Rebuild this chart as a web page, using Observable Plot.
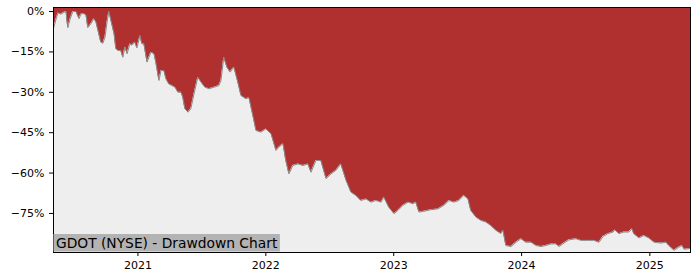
<!DOCTYPE html>
<html>
<head>
<meta charset="utf-8">
<script src="https://cdn.jsdelivr.net/npm/d3@7"></script>
<script src="https://cdn.jsdelivr.net/npm/@observablehq/plot@0.6"></script>
<style>
  html, body { margin: 0; padding: 0; background: #fff; }
  #chart { width: 700px; height: 280px; }
</style>
</head>
<body>
<div id="chart"></div>
<script>
const title = "GDOT (NYSE) - Drawdown Chart";
const dates = [
  "2020-05-05","2020-05-12","2020-05-18","2020-05-26","2020-06-04","2020-06-10","2020-06-12","2020-06-15",
  "2020-06-21","2020-06-29","2020-07-08","2020-07-17","2020-07-22","2020-07-31","2020-08-06","2020-08-11",
  "2020-08-20","2020-08-28","2020-09-03","2020-09-09","2020-09-17","2020-09-23","2020-09-29","2020-10-05",
  "2020-10-10","2020-10-16","2020-10-25","2020-10-30","2020-11-05","2020-11-13","2020-11-19","2020-11-25",
  "2020-12-01","2020-12-09","2020-12-15","2020-12-23","2020-12-29","2021-01-07","2021-01-12","2021-01-18",
  "2021-01-27","2021-02-07","2021-02-16","2021-02-21","2021-03-02","2021-03-08","2021-03-16","2021-03-22",
  "2021-03-30","2021-04-08","2021-04-17","2021-04-25","2021-05-04","2021-05-09","2021-05-15","2021-05-24",
  "2021-06-01","2021-06-10","2021-06-21","2021-06-30","2021-07-11","2021-07-23","2021-08-06","2021-08-20",
  "2021-08-26","2021-09-03","2021-09-12","2021-09-21","2021-10-02","2021-10-13","2021-10-22","2021-11-05",
  "2021-11-14","2021-11-25","2021-12-04","2021-12-18","2022-01-01","2022-01-16","2022-01-30","2022-02-07",
  "2022-02-19","2022-02-27","2022-03-08","2022-03-19","2022-04-03","2022-04-17","2022-05-01","2022-05-10",
  "2022-05-24","2022-06-07","2022-06-22","2022-07-06","2022-07-20","2022-08-03","2022-08-18","2022-09-01",
  "2022-09-15","2022-09-29","2022-10-14","2022-10-28","2022-11-11","2022-11-26","2022-12-04","2022-12-18",
  "2023-01-02","2023-01-13","2023-01-27","2023-02-11","2023-02-25","2023-03-05","2023-03-14","2023-03-28",
  "2023-04-17","2023-05-07","2023-05-24","2023-06-08","2023-06-22","2023-07-06","2023-07-20","2023-08-01",
  "2023-08-09","2023-08-24","2023-09-07","2023-09-21","2023-10-05","2023-10-20","2023-11-03","2023-11-09",
  "2023-11-17","2023-12-02","2023-12-16","2023-12-30","2024-01-13","2024-01-28","2024-02-11","2024-02-25",
  "2024-03-10","2024-03-25","2024-04-08","2024-04-17","2024-05-01","2024-05-15","2024-06-04","2024-06-18",
  "2024-07-08","2024-07-25","2024-08-09","2024-08-20","2024-09-03","2024-09-18","2024-09-23","2024-10-05",
  "2024-10-19","2024-11-02","2024-11-11","2024-11-16","2024-12-01","2024-12-15","2024-12-29","2025-01-13",
  "2025-02-02","2025-02-16","2025-02-24","2025-03-11","2025-03-25","2025-04-03","2025-04-09","2025-04-20",
  "2025-04-27"
];
const drawdown = [
  -6.3,-3,-0.5,-1,-0.3,0,-3,-6,
  -3,0,0,-2.7,-1,-0.7,-1.5,-6,
  -4.5,-2.7,-3.8,-7,-11.4,-11.8,-9.5,-3.8,
  0,-3.3,-8.3,-13.8,-14.5,-14.5,-17,-13.2,
  -15.7,-12,-12.5,-11.4,-13.5,-8.9,-12,-12,
  -18.8,-15.1,-15.7,-18.8,-25.6,-21.9,-21.9,-25,
  -26.9,-27.5,-28.1,-30,-30,-31.8,-36.1,-37.4,
  -36.1,-30.6,-24.4,-26.2,-28.1,-28.7,-28.1,-27.5,
  -25.6,-17,-20.7,-22.5,-20.7,-26.2,-31.2,-32.4,
  -32,-38.6,-44.2,-44.8,-43.6,-45.4,-51.6,-50.4,
  -49.1,-55.3,-60.3,-57.2,-56.6,-57.2,-56.6,-59.7,
  -55.3,-55.3,-62.1,-60.3,-59,-56.6,-62.7,-67.1,
  -68.3,-70.2,-69.6,-70.8,-70.2,-70.8,-69,-72.7,
  -75.1,-73.9,-72,-70.8,-71.4,-70.8,-74.5,-74.2,
  -73.6,-73.3,-72,-70.2,-70.8,-70.2,-68.3,-69.6,
  -73.9,-76.4,-77.6,-78.2,-79.5,-81.3,-82.5,-81.3,
  -86.9,-87.3,-85.7,-84.4,-85.7,-85.7,-86.9,-87.3,
  -86.9,-86.3,-86.3,-87.3,-86,-84.8,-84.4,-85,
  -85,-85,-85.7,-83.6,-82.5,-81.9,-81.1,-82.5,
  -81.9,-81.9,-80.7,-82.5,-84.1,-83.2,-84.1,-85.7,
  -86,-85.7,-86.9,-88.7,-87.5,-86.9,-88.3,-88.1,
  -88
];
const yTicks = [0, -15, -30, -45, -60, -75];
const xTicks = ["2021-01-01","2022-01-01","2023-01-01","2024-01-01","2025-01-01"];
const xDomain = ["2020-05-05", "2025-04-27"];
const yDomain = [-89.5, 1.5];

const data = dates.map((d, i) => ({date: new Date(d), dd: drawdown[i]}));
const fmtY = d => (d < 0 ? "\u2212" : "") + Math.abs(d) + "%";
const fmtX = d => String(d.getUTCFullYear());

const chart = Plot.plot({
  width: 700,
  height: 280,
  marginLeft: 53,
  marginRight: 10,
  marginTop: 7,
  marginBottom: 28,
  style: {fontFamily: "DejaVu Sans", fontSize: "11px", color: "#000", background: "#fff"},
  x: {type: "utc", domain: xDomain.map(d => new Date(d)), label: null},
  y: {domain: yDomain, label: null},
  marks: [
    Plot.frame({fill: "#b03030", stroke: null}),
    Plot.areaY(data, {x: "date", y1: yDomain[0], y2: "dd", fill: "#eeeeee"}),
    Plot.line(data, {x: "date", y: "dd", stroke: "#8a8a8a", strokeWidth: 1}),
    Plot.frame({stroke: "#000", strokeWidth: 1}),
    Plot.axisX({ticks: xTicks.map(d => new Date(d)), tickFormat: fmtX, tickSize: 4, fontSize: 11, label: null}),
    Plot.axisY({ticks: yTicks, tickFormat: fmtY, tickSize: 4, fontSize: 11, label: null})
  ]
});

document.getElementById("chart").appendChild(chart);
const svg = d3.select(chart);
const g = svg.append("g");
const txt = g.append("text")
  .attr("x", 56)
  .attr("y", 247.5)
  .attr("text-anchor", "start")
  .attr("font-family", "DejaVu Sans")
  .attr("font-size", 13.8)
  .attr("fill", "#000")
  .text(title);
const bb = txt.node().getBBox();
g.insert("rect", "text")
  .attr("x", 53.5)
  .attr("y", 234)
  .attr("width", bb.x + bb.width + 2 - 53.5)
  .attr("height", 17.5)
  .attr("fill", "#b3b3b3");
</script>
</body>
</html>
